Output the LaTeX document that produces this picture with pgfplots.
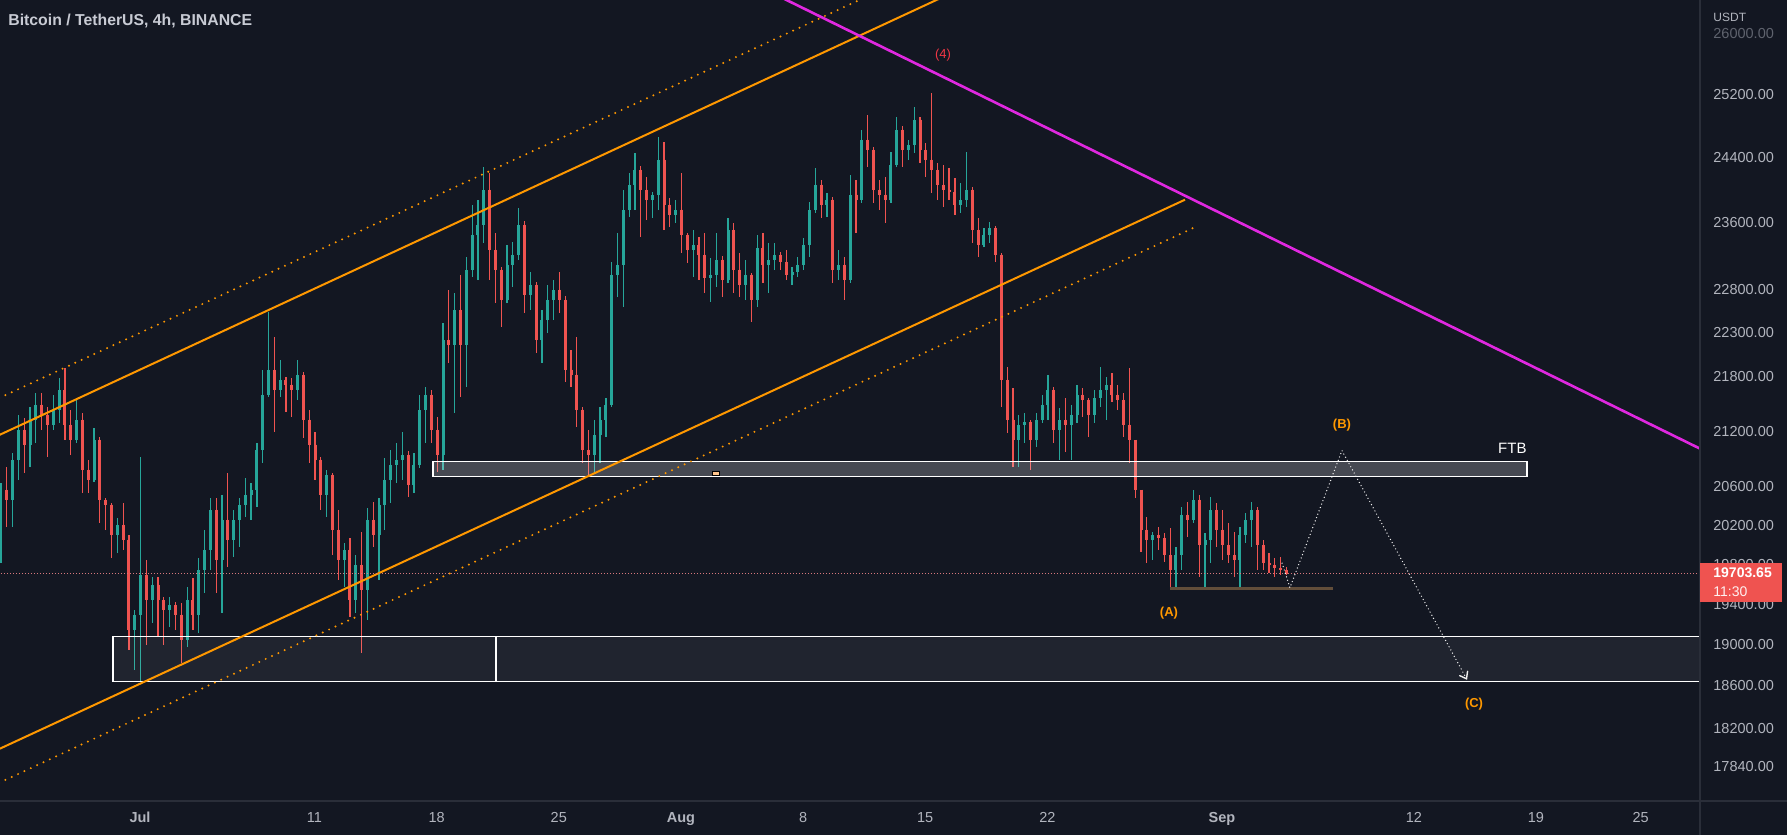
\documentclass[border=0pt]{standalone}
\usepackage{pgfplots}
\pgfplotsset{compat=1.18}
\usepackage{pgfplotstable}
\usepackage{fontspec}
\setmainfont{Liberation Sans}
\usetikzlibrary{arrows.meta}

\definecolor{bg}{RGB}{19,23,34}
\definecolor{cgreen}{RGB}{38,166,154}
\definecolor{cred}{RGB}{239,83,80}
\definecolor{corange}{RGB}{255,152,0}
\definecolor{cmag}{RGB}{224,40,224}
\definecolor{ctext}{RGB}{178,181,190}
\definecolor{cdim}{RGB}{95,99,110}
\definecolor{ctitle}{RGB}{200,203,212}
\definecolor{cgrid}{RGB}{42,46,57}
\definecolor{clab}{RGB}{242,54,69}
\definecolor{cbrown}{RGB}{98,78,58}
\definecolor{cpl}{RGB}{239,83,80}
\definecolor{cpline}{RGB}{215,120,125}
\definecolor{cmark}{RGB}{255,196,140}

% 8h candles: i (index), open, high, low, close, g (1 = up candle)
\pgfplotstableread{
i o h l c g
1 20049 20645 19813 20571 1
2 20571 20816 20184 20466 0
3 20466 20967 20184 20891 1
4 20891 21380 20677 21216 1
5 21216 21347 20752 21053 0
6 21053 21468 20816 21325 1
7 21325 21623 21075 21490 1
8 21490 21623 21216 21380 0
9 21380 21468 20923 21270 0
10 21270 21600 21216 21435 1
11 21435 21789 21292 21656 1
12 21656 21902 21107 21270 0
13 21270 21435 20945 21107 0
14 21107 21545 21075 21325 1
15 21325 21402 20540 20784 0
16 20784 20891 20540 20677 0
17 20677 21238 20650 21107 1
18 21107 21140 20226 20466 0
19 20466 20487 20153 20413 0
20 20413 20430 19864 20101 0
21 20101 20278 19915 20205 1
22 20205 20434 19946 20049 0
23 20049 20101 18948 19144 0
24 19144 19341 18754 19291 1
25 19291 20923 18639 19692 1
26 19692 19844 18996 19441 0
27 19441 19672 19212 19591 1
28 19591 19672 19075 19441 0
29 19441 19471 18996 19341 0
30 19341 19471 19173 19391 1
31 19391 19420 19144 19291 0
32 19291 19411 18821 19045 0
33 19045 19571 18977 19441 1
34 19441 19662 19144 19291 0
35 19291 19864 19114 19742 1
36 19742 20153 19511 19946 1
37 19946 20487 19742 20361 1
38 20361 20487 19511 19844 0
39 19844 20518 19311 20257 1
40 20257 20752 19773 20049 0
41 20049 20361 19875 20257 1
42 20257 20487 19977 20413 1
43 20413 20698 20288 20518 1
44 20518 20645 20257 20571 1
45 20571 21075 20392 20999 1
46 20999 21879 20859 21600 1
47 21600 22542 21578 21879 1
48 21879 22254 21194 21656 0
49 21656 21992 21578 21767 1
50 21767 21800 21413 21711 0
51 21711 21789 21358 21656 0
52 21656 21992 21545 21823 1
53 21823 21850 21129 21325 0
54 21325 21435 20859 21053 0
55 21053 21194 20677 20891 0
56 20891 20920 20361 20518 0
57 20518 20784 20288 20730 1
58 20730 20752 19895 20153 0
59 20153 20361 19642 19844 0
60 19844 20018 19571 19946 1
61 19946 20070 19272 19441 0
62 19441 19895 19311 19793 1
63 19793 20132 18919 19541 0
64 19541 20382 19242 20257 1
65 20257 20445 19977 20101 0
66 20101 20487 19642 20413 1
67 20413 20913 20153 20677 1
68 20677 20999 20434 20837 1
69 20837 21075 20645 20891 1
70 20891 21194 20677 20945 1
71 20945 20980 20497 20624 0
72 20624 20967 20540 20837 1
73 20837 21600 20800 21435 1
74 21435 21689 21075 21600 1
75 21600 21650 21075 21216 0
76 21216 21358 20763 20945 0
77 20945 22415 20784 22220 1
78 22220 22798 21958 22163 0
79 22163 22763 21402 22565 1
80 22565 22974 21578 22163 0
81 22163 23188 21689 23033 1
82 23033 23816 22950 23452 1
83 23452 23877 22915 23572 1
84 23572 24286 23355 24000 1
85 24000 24211 22915 23271 0
86 23271 23475 22646 23033 0
87 23033 23069 22369 22681 0
88 22681 23331 22640 23093 1
89 23093 23367 22833 23212 1
90 23212 23779 23150 23572 1
91 23572 23620 22530 22739 0
92 22739 23009 22565 22856 1
93 22856 22892 22072 22220 0
94 22220 22565 21958 22449 1
95 22449 22856 22300 22681 1
96 22681 22915 22449 22798 1
97 22798 23009 22530 22681 0
98 22681 22720 21745 21879 0
99 21879 22106 21689 21823 0
100 21823 22254 21249 21435 0
101 21435 21460 20859 20999 0
102 20999 21216 20709 20945 0
103 20945 21325 20752 21162 1
104 21162 21468 20859 21325 1
105 21325 21567 21140 21490 1
106 21490 23128 21468 22974 1
107 22974 23475 22716 23093 1
108 23093 24000 22600 23755 1
109 23755 24211 23670 24062 1
110 24062 24461 23755 24248 1
111 24248 24300 23427 24000 0
112 24000 24161 23633 23877 0
113 23877 23975 23657 23938 1
114 23938 24663 23755 24373 1
115 24373 24600 23512 23816 0
116 23816 23901 23548 23694 0
117 23694 23877 23597 23755 1
118 23755 24211 23235 23452 0
119 23452 23475 23116 23271 0
120 23271 23512 22950 23331 1
121 23331 23427 22915 23212 0
122 23212 23475 22763 22939 0
123 22939 23176 22658 22974 1
124 22974 23475 22833 23152 1
125 23152 23200 22716 22915 0
126 22915 23657 22880 23512 1
127 23512 23597 22763 23033 0
128 23033 23235 22716 22856 0
129 22856 23152 22681 22974 1
130 22974 22998 22426 22681 0
131 22681 23452 22600 23295 1
132 23295 23475 22880 23093 0
133 23093 23355 22763 23152 1
134 23152 23355 23033 23212 1
135 23212 23247 23033 23128 0
136 23128 23271 22915 22974 0
137 22974 23069 22856 23009 1
138 23009 23188 22950 23093 1
139 23093 23415 23033 23331 1
140 23331 23852 23188 23755 1
141 23755 24273 23720 24062 1
142 24062 24124 23657 23816 0
143 23816 23963 23670 23877 1
144 23877 23914 22880 23033 0
145 23033 23271 22915 23093 1
146 23093 23188 22681 22915 0
147 22915 24186 22880 23938 1
148 23938 24124 23475 23877 0
149 23877 24751 23840 24625 1
150 24625 24943 24286 24499 0
151 24499 24530 23840 24000 0
152 24000 24124 23755 23938 0
153 23938 24161 23597 23877 0
154 23877 24474 23840 24311 1
155 24311 24917 24280 24751 1
156 24751 24800 24286 24499 0
157 24499 24625 24373 24562 1
158 24562 25046 24461 24879 1
159 24879 24917 24336 24499 0
160 24499 24587 24161 24373 0
161 24373 25227 23963 24248 0
162 24248 24336 23877 24062 0
163 24062 24311 23792 24000 0
164 24000 24273 23877 23975 0
165 23975 24149 23694 23816 0
166 23816 24087 23718 23877 1
167 23877 24474 23792 24000 1
168 24000 24030 23355 23512 0
169 23512 23657 23188 23331 0
170 23331 23536 23300 23452 1
171 23452 23609 23355 23536 1
172 23536 23560 23128 23212 0
173 23212 23235 21468 21767 0
174 21767 21913 21183 21325 0
175 21325 21678 20816 21107 0
176 21107 21380 20816 21270 1
177 21270 21402 21075 21303 1
178 21303 21320 20784 21107 0
179 21107 21402 21032 21325 1
180 21325 21600 21292 21490 1
181 21490 21823 21325 21656 1
182 21656 21680 21075 21216 0
183 21216 21457 20891 21325 1
184 21325 21567 20977 21270 0
185 21270 21490 20891 21380 1
186 21380 21711 21292 21600 1
187 21600 21678 21358 21545 0
188 21545 21560 21140 21380 0
189 21380 21656 21292 21567 1
190 21567 21913 21468 21656 1
191 21656 21800 21325 21711 1
192 21711 21845 21523 21600 0
193 21600 21711 21435 21545 0
194 21545 21623 21140 21270 0
195 21270 21902 20859 21107 0
196 21107 21107 20487 20571 0
197 20571 20571 19925 20153 0
198 20153 20288 19813 20049 0
199 20049 20132 19844 20101 1
200 20101 20184 19946 20070 0
201 20070 20122 19824 19895 0
202 19895 20174 19541 19742 0
203 19742 19977 19541 19895 1
204 19895 20392 19742 20309 1
205 20309 20445 20080 20257 0
206 20257 20571 20226 20466 1
207 20466 20518 19672 19997 0
208 19997 20122 19541 20049 1
209 20049 20497 19813 20361 1
210 20361 20434 19977 20153 0
211 20153 20361 19844 19997 0
212 19997 20226 19813 19895 0
213 19895 20132 19672 19844 0
214 19844 20184 19561 20101 1
215 20101 20330 20018 20257 1
216 20257 20445 19977 20361 1
217 20361 20392 19742 19997 0
218 19997 20049 19742 19813 0
219 19813 19915 19712 19793 0
220 19793 19864 19672 19762 0
221 19762 19875 19692 19742 0
222 19742 19773 19690 19703.65 0
}\candles

\begin{document}
\begin{tikzpicture}
\useasboundingbox (0,0) rectangle (893.5pt,417.5pt);
\fill[bg] (0,0) rectangle (893.5pt,417.5pt);
\begin{axis}[
  at={(0pt,17pt)}, anchor=south west,
  width=850pt, height=400.5pt, scale only axis,
  xmin=-8.023, xmax=89.40,
  ymode=log,
  ymin=17531, ymax=26462,
  axis line style={draw=none},
  tick style={draw=none},
  major tick length=0pt, minor tick length=0pt,
  xtick={0,10,17,24,31,38,45,52,62,73,80,86},
  xticklabels={\textbf{Jul},11,18,25,\textbf{Aug},8,15,22,\textbf{Sep},12,19,25},
  ytick={17840,18200,18600,19000,19400,19800,20200,20600,21200,21800,22300,22800,23600,24400,25200,26000},
  yticklabels={17840.00,18200.00,18600.00,19000.00,19400.00,19800.00,20200.00,20600.00,21200.00,21800.00,22300.00,22800.00,23600.00,24400.00,25200.00,\textcolor{cdim}{26000.00}},
  yticklabel pos=right,
  ticklabel style={font=\fontsize{7.25}{8.5}\selectfont, text=ctext, inner sep=0pt},
  yticklabel style={anchor=west, xshift=6.5pt},
  xticklabel style={anchor=base, yshift=-11pt},
  clip=true,
]
% --- candles (8h): wick low->high, body open->close, one per table row ---
\pgfplotsinvokeforeach{0,...,221}{%
  \pgfplotstablegetelem{#1}{o}\of\candles\let\candO\pgfplotsretval
  \pgfplotstablegetelem{#1}{h}\of\candles\let\candH\pgfplotsretval
  \pgfplotstablegetelem{#1}{l}\of\candles\let\candL\pgfplotsretval
  \pgfplotstablegetelem{#1}{c}\of\candles\let\candC\pgfplotsretval
  \pgfplotstablegetelem{#1}{g}\of\candles\let\candG\pgfplotsretval
  \pgfmathsetmacro\candX{(#1+1)/3-8.3}%
  \ifnum\candG=1 \def\candCol{cgreen}\else\def\candCol{cred}\fi
  \edef\candCmd{%
    \noexpand\addplot[\candCol, line width=0.6pt, forget plot] coordinates {(\candX,\candL) (\candX,\candH)};%
    \noexpand\addplot[\candCol, line width=1.5pt, forget plot] coordinates {(\candX,\candO) (\candX,\candC)};%
  }%
  \candCmd
}

% --- zones ---
\addplot[fill=white, fill opacity=0.06, draw=white, line width=0.7pt, line cap=rect] coordinates {(-1.547,18639) (20.40,18639) (20.40,19075) (-1.547,19075) (-1.547,18639)};
\addplot[fill=white, fill opacity=0.06, draw=white, line width=0.7pt, line cap=rect] coordinates {(20.40,18639) (95,18639) (95,19075) (20.40,19075) (20.40,18639)};
\addplot[fill=white, fill opacity=0.22, draw=white, line width=0.7pt, line cap=rect] coordinates {(16.79,20709) (79.48,20709) (79.48,20870) (16.79,20870) (16.79,20709)};
\addplot[only marks, mark=square*, mark size=1.1pt, mark options={xscale=1.5, yscale=0.75, fill=cmark, draw=none}] coordinates {(33.01,20745)};

% --- channel and trend lines ---
\addplot[corange, line width=1pt] coordinates {(-9.17,21060) (48.14,26735)};
\addplot[corange, line width=1.1pt, line cap=round, dash pattern=on 0pt off 3.5pt] coordinates {(-9.17,21465) (43.73,26735)};
\addplot[corange, line width=1pt] coordinates {(-9.17,17922) (59.89,23877)};
\addplot[corange, line width=1.1pt, line cap=round, dash pattern=on 0pt off 3.5pt] coordinates {(-9.17,17612) (60.40,23536)};
\addplot[cmag, line width=1.3pt] coordinates {(34.69,26735) (90.54,20904)};

% --- current price line and level ---
\addplot[cpline, line width=0.5pt, dash pattern=on 0.5pt off 1pt] coordinates {(-9,19703.65) (92,19703.65)};
\addplot[cbrown, line width=1.5pt] coordinates {(59.03,19551) (68.37,19551)};

% --- projected path ---
\addplot[white!88!gray, line width=0.7pt, line cap=round, dash pattern=on 0pt off 1.8pt, -{Straight Barb[length=3pt,width=4.5pt,line cap=round]}] coordinates {(65.45,19810) (65.90,19561) (68.88,20988) (76.05,18658)};

% --- labels ---
\node[text=clab, font=\fontsize{6.5}{7.5}\selectfont, inner sep=0pt] at (axis cs:46.02,25725) {(4)};
\node[text=corange, font=\fontsize{6.5}{7.5}\selectfont\bfseries, inner sep=0pt] at (axis cs:68.88,21260) {(B)};
\node[text=corange, font=\fontsize{6.5}{7.5}\selectfont\bfseries, inner sep=0pt] at (axis cs:58.97,19311) {(A)};
\node[text=corange, font=\fontsize{6.5}{7.5}\selectfont\bfseries, inner sep=0pt] at (axis cs:76.45,18429) {(C)};
\node[text=white, font=\fontsize{7.5}{8.5}\selectfont, inner sep=0pt, anchor=east] at (axis cs:79.48,21010) {FTB};

\coordinate (pl) at (axis cs:89.40,19703.65);
\end{axis}
\draw[cgrid, line width=0.6pt] (0,17pt) -- (893.5pt,17pt);
\draw[cgrid, line width=0.6pt] (850pt,0) -- (850pt,417.5pt);
\fill[cpl] ([yshift=-14pt]pl) rectangle ([xshift=41pt,yshift=5.5pt]pl);
\node[anchor=west, inner sep=0pt, text=white, font=\fontsize{7}{8}\selectfont\bfseries] at ([xshift=6.5pt,yshift=0.5pt]pl) {19703.65};
\node[anchor=west, inner sep=0pt, text=white!92!cpl, font=\fontsize{7}{8}\selectfont] at ([xshift=6.5pt,yshift=-9pt]pl) {11:30};
\node[anchor=west, inner sep=0pt, text=ctext, font=\fontsize{6}{7}\selectfont] at (856.5pt,409pt) {USDT};
\node[anchor=west, inner sep=0pt, text=ctitle, font=\fontsize{7.9}{9}\selectfont\bfseries] at (4pt,407.2pt) {Bitcoin / TetherUS, 4h, BINANCE};
\end{tikzpicture}
\end{document}
